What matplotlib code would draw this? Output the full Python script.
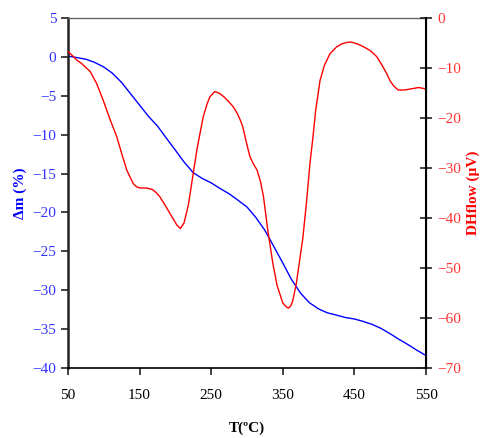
import matplotlib
matplotlib.use("Agg")
import matplotlib.pyplot as plt
import numpy as np

plt.rcParams['font.family'] = ['Liberation Serif', 'DejaVu Serif']

# Mass loss (left axis)
t_mass = [50, 60, 75, 87, 100, 112, 125, 137, 150, 162, 175, 187, 200, 212,
          225, 237, 250, 262, 275, 287, 300, 312, 325, 337, 350, 362, 375, 387,
          400, 412, 425, 437, 450, 462, 475, 487, 500, 512, 525, 537, 550]
dm = [0.1, -0.05, -0.3, -0.7, -1.3, -2.1, -3.3, -4.7, -6.2, -7.6, -8.9, -10.4,
      -12.0, -13.5, -14.9, -15.6, -16.2, -16.9, -17.6, -18.4, -19.3, -20.6,
      -22.3, -24.3, -26.5, -28.6, -30.4, -31.6, -32.4, -32.9, -33.2, -33.5,
      -33.7, -34.0, -34.4, -34.9, -35.6, -36.3, -37.0, -37.7, -38.4]

# Heat flow (right axis)
t_heat = [50, 56, 62, 69, 75, 81, 90, 99, 109, 118, 125, 132, 141, 146, 151,
          160, 168, 173, 178, 185, 192, 202, 207, 212, 218, 225, 230, 235, 239,
          244, 248, 255, 262, 268, 275, 281, 286, 290, 294, 299, 304, 309, 314,
          319, 323, 329, 336, 342, 350, 355, 358, 361, 364, 369, 374, 378, 383,
          388, 392, 396, 402, 408, 416, 425, 432, 439, 445, 450, 456, 462, 472,
          481, 488, 495, 500, 505, 511, 520, 528, 540, 550]
dh = [-6.7, -7.5, -8.4, -9.1, -9.9, -10.7, -13.1, -16.4, -20.4, -23.7, -27.1,
      -30.4, -33.1, -33.8, -34.0, -34.0, -34.3, -34.9, -35.7, -37.3, -39.0,
      -41.4, -42.1, -41.0, -37.5, -31.0, -26.4, -22.6, -19.7, -17.3, -15.8,
      -14.7, -15.1, -15.8, -16.8, -17.8, -19.0, -20.2, -21.7, -24.8, -27.7,
      -29.2, -30.4, -32.8, -35.7, -42.4, -49.0, -53.5, -57.0, -57.8, -58.0,
      -57.6, -56.5, -53.0, -48.0, -44.0, -37.0, -29.0, -24.0, -18.4, -12.5,
      -9.5, -7.1, -5.8, -5.2, -4.9, -4.8, -5.0, -5.3, -5.7, -6.5, -7.7, -9.3,
      -11.1, -12.6, -13.6, -14.4, -14.4, -14.2, -13.9, -14.2]

x_ticks = [50, 150, 250, 350, 450, 550]
left_ticks = [5, 0, -5, -10, -15, -20, -25, -30, -35, -40]
right_ticks = [0, -10, -20, -30, -40, -50, -60, -70]

blue = '#0000ff'
red = '#ff0000'

fig = plt.figure(figsize=(4.83, 4.38), dpi=100)
ax = fig.add_axes([68/483, 1-368/438, (426-68)/483, (368-18)/438])
ax.plot(t_mass, dm, color=blue, lw=1.0)
ax.set_xlim(50, 550)
ax.set_ylim(-40, 5)
ax.set_xticks(x_ticks)
ax.set_yticks(left_ticks)
ax.tick_params(axis='y', colors='#222222', labelcolor='#3333ff', labelsize=11,
               direction='out', length=5, width=1.2)
ax.tick_params(axis='x', colors='#222222', labelcolor='black', labelsize=11,
               direction='out', length=5, width=1.2, pad=10)
ax.spines['left'].set_linewidth(1.8)
ax.spines['left'].set_color('#222222')
ax.spines['bottom'].set_linewidth(1.2)
ax.spines['top'].set_color('#666666')
ax.spines['top'].set_linewidth(1.0)
ax.set_ylabel('Δm (%)', color=blue, fontweight='bold', fontsize=11, labelpad=4)
ax.set_xlabel('T(ºC)', fontweight='bold', fontsize=11, labelpad=14)

ax2 = ax.twinx()
ax2.plot(t_heat, dh, color=red, lw=1.0)
ax2.set_ylim(-70, 0)
ax2.set_yticks(right_ticks)
ax2.tick_params(axis='y', colors='#222222', labelcolor='#ff3333', labelsize=11,
                direction='inout', length=9, width=1.2)
ax2.spines['right'].set_linewidth(1.5)
ax2.spines['top'].set_visible(False)
ax2.spines['left'].set_visible(False)
ax2.spines['bottom'].set_visible(False)
ax2.set_ylabel('DHflow (µV)', color=red, fontweight='bold', fontsize=11, labelpad=4)
ax2.yaxis.label.set_rotation(90)

fig.savefig('out.png', dpi=100)
